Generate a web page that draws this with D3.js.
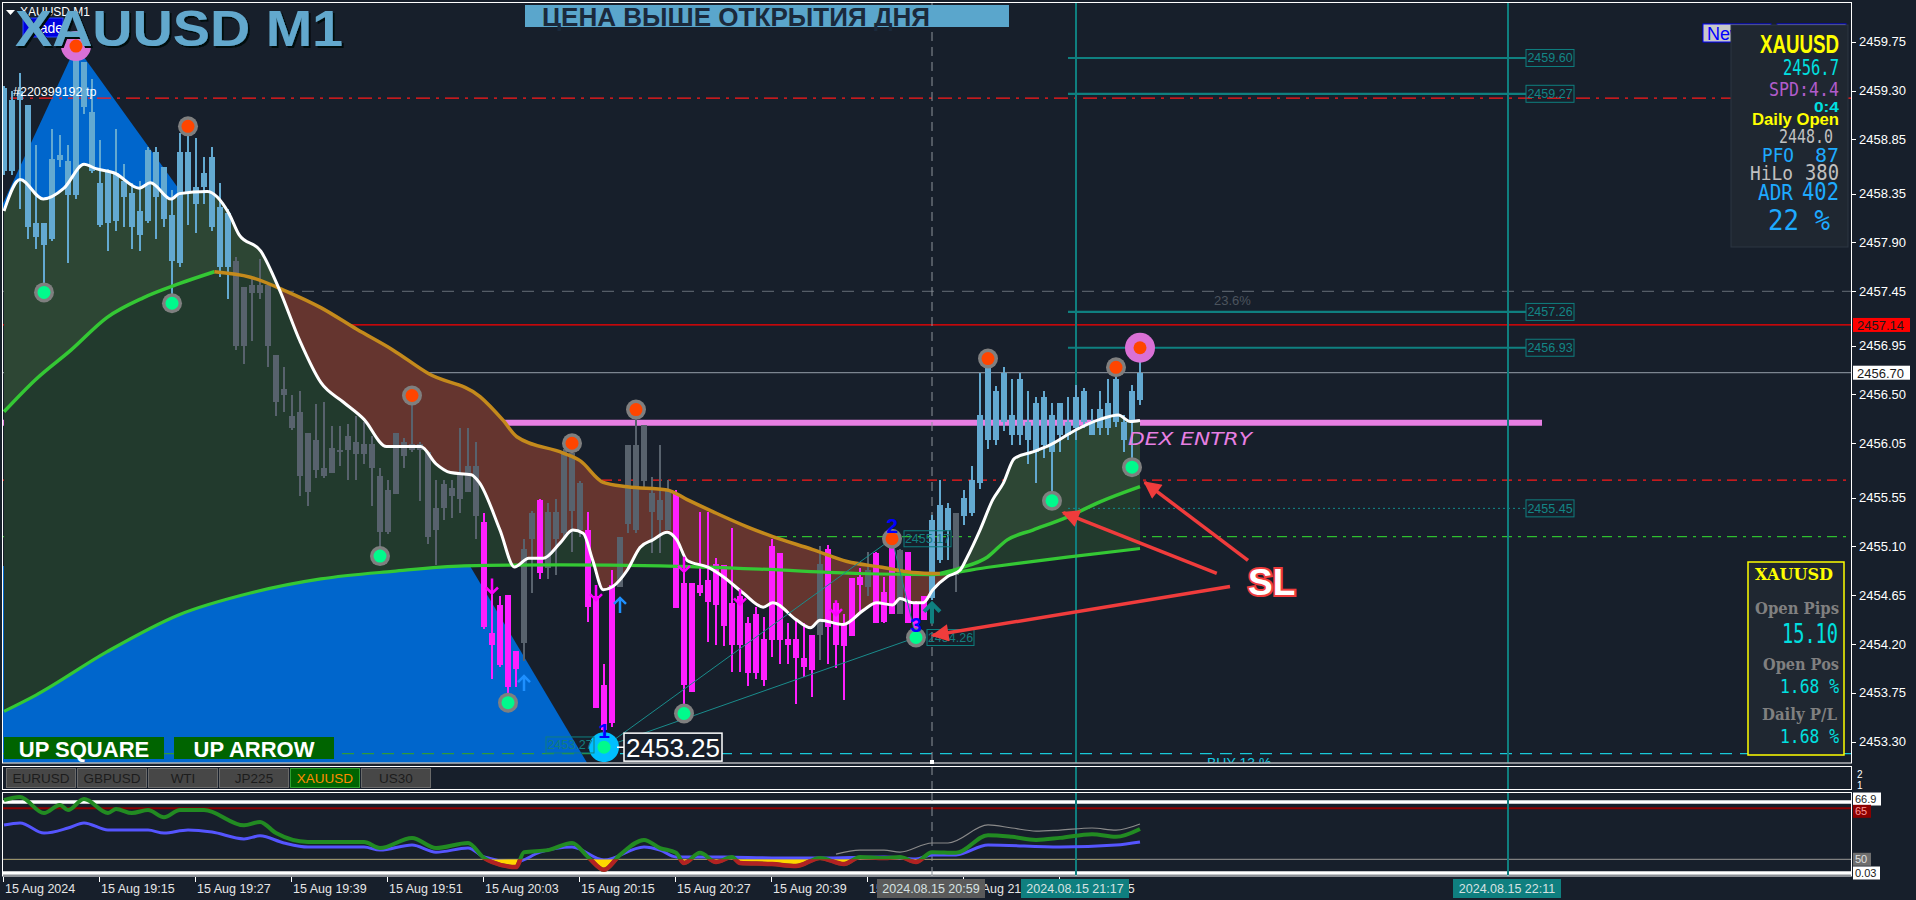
<!DOCTYPE html>
<html><head><meta charset="utf-8">
<script src="https://cdn.jsdelivr.net/npm/d3@7/dist/d3.min.js"></script>
<style>html,body{margin:0;padding:0;background:#171f2b;overflow:hidden}svg{display:block}</style>
</head><body>
<svg id="chart" width="1916" height="900"></svg>
<script>
// ================= DATA =================
const priceTicks = [2459.75,2459.30,2458.85,2458.35,2457.90,2457.45,2456.95,2456.50,2456.05,2455.55,2455.10,2454.65,2454.20,2453.75,2453.30];
const timeTickBars = [0,12,24,36,48,60,72,84,96,108,120,132];
const timeTickLabels = ["15 Aug 2024","15 Aug 19:15","15 Aug 19:27","15 Aug 19:39","15 Aug 19:51","15 Aug 20:03","15 Aug 20:15","15 Aug 20:27","15 Aug 20:39","15 Aug 20:51","15 Aug 21:03","15 Aug 21:15"];

const open = [
2458.56,2458.56,2459.21,2458.04,2457.95,2457.88,2457.93,2458.66,2458.34,2458.34,
2459.15,2458.56,2458.06,2458.08,2458.10,2458.32,2458.04,2457.97,2458.10,2458.32,
2458.12,2457.73,2457.71,2458.36,2458.25,2458.41,2458.04,2457.67,2457.67,2457.73,
2457.49,2457.51,2457.51,2457.51,2456.86,2456.55,2456.30,2456.34,2456.14,2456.08,
2455.82,2456.01,2455.99,2456.12,2456.06,2456.04,2456.04,2455.75,2455.62,2456.14,
2456.06,2456.04,2456.04,2455.97,2455.45,2455.67,2455.64,2455.78,2455.84,2455.84,
2455.32,2454.30,2454.56,2454.65,2454.14,2455.08,2455.41,2455.53,2455.42,2455.42,
2455.98,2455.96,2455.68,2455.25,2454.64,2453.82,2454.74,2455.19,2456.03,2456.03,
2456.22,2455.59,2455.53,2455.62,2455.59,2454.76,2454.76,2454.74,2454.79,2454.94,
2454.93,2454.58,2454.64,2454.39,2454.48,2454.25,2455.10,2455.04,2454.25,2454.25,
2454.07,2454.28,2454.94,2455.08,2454.58,2454.39,2454.81,2454.82,2454.88,2455.04,
2454.68,2455.13,2455.07,2455.05,2454.58,2454.64,2454.62,2454.97,2455.25,2455.41,
2455.38,2455.41,2455.68,2456.08,2456.08,2456.25,2456.13,2456.13,2456.08,2455.97,
2456.03,2455.97,2456.13,2456.13,2456.19,2456.25,2456.13,2456.19,2456.19,2456.25,
2456.08,2456.25,2456.45];
const high = [
2459.34,2459.30,2459.46,2459.17,2458.80,2458.08,2458.95,2458.89,2458.80,2459.71,
2459.56,2459.41,2458.84,2458.58,2458.95,2458.62,2458.45,2458.47,2458.78,2458.78,
2458.60,2458.38,2458.91,2458.97,2458.86,2458.69,2458.78,2458.45,2458.21,2457.77,
2457.49,2457.58,2457.75,2457.51,2456.86,2456.75,2456.49,2456.53,2456.14,2456.41,
2456.43,2456.21,2456.21,2456.23,2456.30,2456.25,2456.12,2455.82,2455.71,2456.14,
2456.10,2456.47,2456.06,2455.97,2455.71,2455.71,2455.71,2456.19,2456.19,2456.06,
2455.41,2454.74,2454.64,2454.65,2454.14,2455.17,2455.43,2455.54,2455.50,2455.54,
2456.00,2456.05,2455.70,2455.42,2454.71,2454.02,2454.88,2455.19,2456.03,2456.36,
2456.22,2455.74,2456.03,2455.71,2455.62,2454.97,2454.76,2455.42,2455.42,2454.99,
2454.93,2455.27,2454.70,2454.45,2454.54,2454.45,2455.17,2455.04,2454.39,2454.42,
2454.39,2454.28,2455.10,2455.11,2454.58,2454.48,2454.81,2454.90,2455.05,2455.05,
2454.82,2455.17,2455.08,2455.05,2454.60,2454.64,2455.39,2455.71,2455.50,2455.41,
2455.62,2455.84,2456.70,2456.83,2456.58,2456.75,2456.64,2456.70,2456.53,2456.48,
2456.53,2456.42,2456.42,2456.48,2456.59,2456.56,2456.37,2456.53,2456.64,2456.75,
2456.31,2456.59,2456.93];
const low = [
2458.52,2458.52,2458.21,2457.93,2457.84,2457.45,2457.91,2458.60,2457.71,2458.30,
2459.08,2458.54,2458.04,2457.82,2458.01,2458.04,2457.84,2457.82,2458.08,2457.93,
2458.04,2457.34,2457.67,2458.06,2457.99,2458.25,2458.01,2457.58,2457.38,2456.91,
2456.78,2456.99,2457.38,2456.75,2456.30,2456.34,2456.17,2455.56,2455.47,2455.73,
2455.73,2455.78,2455.84,2455.71,2455.71,2455.86,2455.47,2455.03,2455.21,2455.58,
2455.82,2455.97,2455.52,2455.12,2454.93,2455.34,2455.36,2455.41,2455.60,2455.17,
2454.34,2453.88,2453.99,2453.66,2453.80,2454.04,2454.67,2454.80,2454.80,2454.84,
2455.19,2455.05,2455.19,2454.40,2453.61,2453.25,2453.44,2454.73,2455.22,2455.22,
2455.65,2455.04,2455.04,2455.25,2454.53,2453.56,2453.76,2454.64,2454.22,2454.19,
2454.18,2453.94,2453.94,2453.81,2453.88,2453.81,2454.08,2454.02,2454.02,2453.65,
2453.90,2453.71,2454.05,2454.02,2453.98,2453.68,2454.27,2454.48,2454.64,2454.39,
2454.39,2454.48,2454.48,2454.39,2454.26,2454.42,2454.61,2454.95,2454.97,2454.68,
2455.30,2455.38,2455.63,2456.00,2456.03,2456.16,2456.03,2456.03,2455.86,2455.68,
2455.91,2455.55,2455.97,2456.08,2456.08,2456.19,2456.13,2456.13,2456.13,2456.20,
2455.97,2455.83,2456.40];
const close = [
2459.32,2459.21,2459.30,2459.17,2458.08,2458.08,2458.67,2458.71,2458.65,2459.58,
2459.56,2459.10,2458.45,2458.56,2458.54,2458.47,2458.36,2458.19,2458.75,2458.73,
2458.60,2458.15,2458.73,2458.73,2458.41,2458.54,2458.69,2458.23,2458.17,2456.95,
2456.95,2457.43,2457.43,2456.95,2456.43,2456.49,2456.19,2455.75,2455.60,2455.80,
2455.75,2455.78,2455.97,2455.99,2455.95,2455.95,2455.82,2455.23,2455.23,2455.58,
2455.93,2455.99,2455.99,2455.19,2455.25,2455.45,2455.56,2455.54,2455.60,2455.38,
2454.36,2454.19,2454.01,2453.80,2453.97,2454.21,2455.17,2454.85,2454.90,2455.17,
2455.22,2455.43,2455.25,2454.54,2453.61,2453.41,2453.47,2454.73,2455.31,2455.25,
2455.70,2455.42,2455.34,2455.25,2454.53,2453.82,2453.76,2454.67,2454.59,2454.56,
2454.37,2454.19,2454.19,2453.93,2453.93,2453.87,2454.24,2454.24,2454.19,2454.07,
2453.99,2453.96,2454.28,2454.36,2454.19,2454.18,2454.27,2454.74,2454.73,2454.39,
2454.40,2454.48,2454.48,2454.39,2454.33,2454.42,2455.34,2455.48,2455.45,2454.84,
2455.55,2455.71,2456.31,2456.75,2456.53,2456.70,2456.31,2456.64,2456.25,2456.42,
2456.48,2456.31,2456.42,2456.25,2456.48,2456.53,2456.25,2456.37,2456.42,2456.64,
2456.25,2456.53,2456.70];
// candle colour state: b = above, g = neutral, m = below
const barColorRuns = [["b",29],["g",31],["m",5],["g",2],["m",1],["g",5],["m",4],["g",7],["m",18],["g",1],["m",5],["g",1],["m",3],["g",1],["m",3],["b",3],["g",1],["b",23]];

// moving averages (bar index, price)
const fastT = [0,2,4.9,7.5,10,11.5,13.8,16.9,18.3,20.9,21.9,25.4,28.1,29.4,32.1,34.4,37,39.6,42.4,45,47.8,52.1,54,55.8,58.4,59.4,62,63.8,65.6,67.4,69.5,71.1,72.4,73.6,74.9,76.1,77.9,79.5,81.1,82.9,84.1,85.4,87.9,89.9,92.4,94.9,96.1,99.1,100.8,102,104.9,107.4,109.1,111.1,112,113.6,114.9,116.1,117.9,119.5,120.4,122,123.6,124.9,126.3,128.6,130.9,133.9,137,139.3,140.8,142];
const fastP = [2458.19,2458.48,2458.30,2458.40,2458.62,2458.58,2458.54,2458.40,2458.45,2458.30,2458.35,2458.37,2458.17,2457.97,2457.82,2457.47,2456.99,2456.61,2456.43,2456.27,2456.02,2456.02,2455.86,2455.78,2455.76,2455.69,2455.25,2454.91,2454.99,2454.99,2455.13,2455.25,2455.22,2454.97,2454.70,2454.73,2454.88,2455.09,2455.16,2455.23,2455.16,2454.97,2454.91,2454.82,2454.67,2454.54,2454.58,2454.42,2454.35,2454.42,2454.38,2454.51,2454.58,2454.56,2454.62,2454.58,2454.58,2454.70,2454.82,2454.88,2455.00,2455.25,2455.53,2455.68,2455.91,2455.97,2456.04,2456.17,2456.27,2456.31,2456.25,2456.26];
const midT = [0,4,8.4,12.9,17.4,21.9,26.3,30.8,35.3,39.6,44.1,48.6,53.1,59.5,62.4,64.1,69.9,72,74.9,77.9,82.9,85.4,88.6,92.9,96.1,101.1,105.4,109.5,113.6,117,119.5,122.9,125.4,128.6,132.9,137,142];
const midP = [2456.34,2456.64,2456.91,2457.21,2457.39,2457.52,2457.63,2457.58,2457.45,2457.30,2457.10,2456.91,2456.69,2456.48,2456.26,2456.11,2455.96,2455.89,2455.69,2455.65,2455.62,2455.53,2455.42,2455.28,2455.19,2455.07,2454.96,2454.91,2454.86,2454.85,2454.90,2455.00,2455.16,2455.25,2455.37,2455.51,2455.65];
const slowT = [0,4,12.9,21.9,30.8,39.6,48.6,57.5,69.5,82,94.5,107,115.8,123.3,132.9,142];
const slowP = [2453.58,2453.73,2454.13,2454.47,2454.67,2454.80,2454.87,2454.92,2454.93,2454.92,2454.89,2454.85,2454.84,2454.91,2455.00,2455.08];

// swing markers
const highMarkT = [9,23,51,71,79,111,123,139,142];
const highMarkP = [2459.71,2458.97,2456.49,2456.05,2456.36,2455.17,2456.83,2456.75,2456.93];
const lowMarkT = [5,21,47,63,75,85,114,131,141];
const lowMarkP = [2457.44,2457.34,2455.01,2453.66,2453.25,2453.56,2454.26,2455.52,2455.83];
const downArrowT = [61,74,85,92,104];
const downArrowP = [2454.73,2454.67,2454.93,2454.63,2454.53];
const upArrowT = [65,77];
const upArrowP = [2453.84,2454.56];
const bigUpArrowT = [116];
const bigUpArrowP = [2454.49];
const swingNames = ["1","2","3"];
const swingT = [75,111,114];
const swingP = [2453.25,2455.17,2454.26];
const swingBoxP = [2453.27,2455.17,2454.26];
const lowestPrice = 2453.25;

// triangles
const topTriT = [9,-0.5,25];
const topTriP = [2459.71,2458.20,2458.07];
const botTriT = [-0.5,58.25,73.25,-0.5];
const botTriP = [2454.92,2454.92,2453.06,2453.06];

// price levels
const tpPrice = 2459.23, fibPrice = 2457.45, askPrice = 2457.14, bidPrice = 2456.70;
const entryPrice = 2456.24, slPrice = 2455.71, greenLevelPrice = 2455.19, buyPrice = 2453.19;
const targetPrices = [2459.60,2459.27,2457.26,2456.93];
const stopTargetPrice = 2455.45;
const targetStartBar = 133, entryEndBar = 192.25;
const vLineBars = [116,134,188];
const vLineLabels = ["2024.08.15 20:59","2024.08.15 21:17","2024.08.15 22:11"];

// SL annotation arrows
const slFromT = [155.5,151.6,153.25], slFromP = [2454.97,2454.85,2454.73];
const slToT = [142.6,132.4,116.1], slToP = [2455.69,2455.41,2454.28];
const slTextT = 155.5, slTextP = 2454.65;

// indicator sub-window
const oscT = [0,2,5,7,8,10,13,14,16,18,20,22,25,30,32,34,38,45,47,51,54,58,60,61,64,65,68,71,73,75,77,80,82,84,85,87,89,91,92,96,99,102,105,107,110,112,114,116,119,123,126,129,132,136,139,142];
const oscV = [67.4,68.3,63.6,66.0,64.5,67.7,63.6,64.8,63.6,64.5,62.4,64.5,64.5,60.0,61.0,57.7,55.1,55.1,53.3,56.3,53.3,54.8,50.4,49.2,47.7,52.1,52.7,54.8,50.7,46.9,51.3,55.7,53.3,51.9,48.9,51.9,49.2,50.7,48.9,48.6,48.0,50.4,48.6,50.7,50.4,50.7,49.2,52.1,51.9,57.1,56.6,55.7,56.3,57.4,56.6,58.9];
const sigT = [0,2,5,8,10,13,18,20,23,26,30,32,35,38,45,47,51,54,58,60,64,67,71,75,80,82,84,90,96,102,110,114,116,119,123,132,139,142];
const sigV = [60.1,60.7,57.7,59.2,60.7,58.6,58.6,57.7,58.6,58.0,56.0,56.9,54.8,53.6,53.6,52.7,54.2,52.1,53.3,50.7,49.2,52.1,53.6,49.8,53.6,52.7,50.7,50.7,50.4,50.4,50.7,50.1,51.3,51.3,54.2,53.6,54.2,55.1];
const grayT = [104,107,110,112,116,118,123,126,129,132,136,139,142];
const grayV = [51.5,52.7,52.7,52.1,54.8,54.8,60.1,59.2,58.3,58.6,59.2,58.6,60.4];
const indLevels = [66.85,65,50,45.97];
const indLevelLabels = ["66.9","65","50","0.03"];

const tabSymbols = ["EURUSD","GBPUSD","WTI","JP225","XAUUSD","US30"];
const activeTab = "XAUUSD";

// info panel
const infoSymbol = "XAUUSD", infoPrice = "2456.7", infoSpread = "SPD:4.4", infoTimer = "0:4";
const infoDailyOpen = "2448.0", infoPFO = "87", infoHiLo = "380", infoADR = "402", infoADRpct = "22 %";
const openPips = "15.10", openPos = "1.68 %", dailyPL = "1.68 %";

// ================= DRAW =================
const FONT = "'Liberation Sans', Arial, sans-serif";
const MONO = "'DejaVu Sans Mono', monospace";
const SERIF = "'DejaVu Serif', serif";
const BG = "#171f2b";
const svg = d3.select("#chart");
const defs = svg.append("defs");
svg.append("rect").attr("width",1916).attr("height",900).attr("fill",BG);

const M = {l:2, r:1852, t:2, b:763};
defs.append("clipPath").attr("id","clipMain").append("rect")
  .attr("x",M.l+0.5).attr("y",M.t+0.5).attr("width",M.r-M.l-1).attr("height",M.b-M.t-1);
const sh = defs.append("filter").attr("id","shadow").attr("x","-5%").attr("y","-20%").attr("width","110%").attr("height","140%");
sh.append("feDropShadow").attr("dx",2).attr("dy",2).attr("stdDeviation",0.3).attr("flood-color","#05080d").attr("flood-opacity",1);
const main = svg.append("g").attr("clip-path","url(#clipMain)");

const x = d3.scaleLinear().domain([0,142]).range([4,1140]);
const y = d3.scaleLinear().domain([2453.30,2459.75]).range([741.7,41.7]);
const pts = (T,P)=>T.map((t,i)=>[t,P[i]]);
const lineGen = d3.line().x(d=>x(d[0])).y(d=>y(d[1])).curve(d3.curveMonotoneX);
const polyGen = d3.line().x(d=>x(d[0])).y(d=>y(d[1]));

// triangles
main.append("path").attr("d",polyGen(pts(topTriT,topTriP))+"Z").attr("fill","#0066cc");
main.append("path").attr("d",polyGen(pts(botTriT,botTriP))+"Z").attr("fill","#0066cc");

// horizontal lines
function hl(p,col,w,dash,x0,x1){
  return main.append("line").attr("x1",x0==null?M.l:x0).attr("x2",x1==null?M.r:x1)
    .attr("y1",y(p)).attr("y2",y(p)).attr("stroke",col).attr("stroke-width",w)
    .attr("stroke-dasharray",dash||null);
}
hl(tpPrice,"#ff1a1a",1.4,"14,6,3,6",10);
hl(fibPrice,"#555d67",1.2,"12,8");
hl(askPrice,"#ff0000",1.2);
hl(bidPrice,"#7c8590",1.2);
hl(entryPrice,"#e77fe3",6,null,M.l,x(entryEndBar));
hl(slPrice,"#ff1a1a",1.4,"10,6,3,6");
hl(greenLevelPrice,"#2fbf2f",1.4,"10,6,3,6");
hl(buyPrice,"#2e9a3a",1.4,"12,8",M.l,600);
hl(buyPrice,"#18c8d8",1.4,"12,8",600,M.r);

// fills
const BOT=900, TOP=-20;
const fastPts = pts(fastT,fastP), midPts = pts(midT,midP), slowPts = pts(slowT,slowP);
const areaBelow = d3.area().x(d=>x(d[0])).y0(BOT).y1(d=>y(d[1])).curve(d3.curveMonotoneX);
const areaAbove = d3.area().x(d=>x(d[0])).y0(TOP).y1(d=>y(d[1])).curve(d3.curveMonotoneX);
defs.append("clipPath").attr("id","aboveSlow").append("path").attr("d",areaAbove(slowPts));
defs.append("clipPath").attr("id","aboveMid").append("path").attr("d",areaAbove(midPts));
defs.append("clipPath").attr("id","belowMid").append("path").attr("d",areaBelow(midPts));
main.append("g").attr("clip-path","url(#aboveSlow)").append("path").attr("d",areaBelow(fastPts)).attr("fill","#223a2d");
main.append("g").attr("clip-path","url(#aboveMid)").append("path").attr("d",areaBelow(fastPts)).attr("fill","#2d4634");
main.append("g").attr("clip-path","url(#belowMid)").append("path").attr("d",areaAbove(fastPts)).attr("fill","#65352f");

// target levels (teal) with labels
const fmt2 = d3.format(".2f");
function levelBox(g,xl,p,w){
  g.append("rect").attr("x",xl).attr("y",y(p)-8.5).attr("width",w).attr("height",17)
    .attr("fill","none").attr("stroke","#0f7f7f").attr("stroke-width",1);
  g.append("text").attr("x",xl+w/2).attr("y",y(p)+4.5).attr("text-anchor","middle")
    .attr("font-family",FONT).attr("font-size",12.5).attr("fill","#138585").text(fmt2(p));
}
targetPrices.forEach(p=>{ hl(p,"#0f8080",2.2,null,x(targetStartBar),1526); levelBox(main,1526,p,48); });
hl(stopTargetPrice,"#138a8a",1,"2,3",x(targetStartBar),1526); levelBox(main,1526,stopTargetPrice,48);
main.append("text").attr("x",1214).attr("y",y(fibPrice)+14).attr("font-family",FONT).attr("font-size",13)
  .attr("fill","#4c545e").text("23.6%");

// vertical lines
main.append("line").attr("x1",x(vLineBars[0])).attr("x2",x(vLineBars[0])).attr("y1",M.t).attr("y2",M.b)
  .attr("stroke","#8d939a").attr("stroke-width",1).attr("stroke-dasharray","9,6");
[1,2].forEach(k=>main.append("line").attr("x1",x(vLineBars[k])).attr("x2",x(vLineBars[k])).attr("y1",M.t).attr("y2",M.b)
  .attr("stroke","#0f7f7f").attr("stroke-width",2));

// candles
const barColor = barColorRuns.flatMap(([c,n])=>Array(n).fill(c));
const nBars = Math.min(open.length,high.length,low.length,close.length);
const bars = d3.range(nBars).map(i=>({i,o:open[i],h:high[i],l:low[i],c:close[i],k:barColor[i]||"b"}));
const candleCol = {b:"#63a9d1", g:"#58626d", m:"#ff1fff"};
const cg = main.append("g").attr("shape-rendering","crispEdges");
cg.selectAll("line").data(bars).join("line")
  .attr("x1",d=>x(d.i)).attr("x2",d=>x(d.i)).attr("y1",d=>y(d.h)).attr("y2",d=>y(d.l))
  .attr("stroke",d=>candleCol[d.k]).attr("stroke-width",2);
cg.selectAll("rect").data(bars).join("rect")
  .attr("x",d=>x(d.i)-3).attr("y",d=>y(Math.max(d.o,d.c))).attr("width",6)
  .attr("height",d=>Math.max(1.5,Math.abs(y(d.o)-y(d.c)))).attr("fill",d=>candleCol[d.k]);

// moving averages
main.append("path").attr("d",lineGen(slowPts)).attr("fill","none").attr("stroke","#34c834").attr("stroke-width",3.2);
let runs=[], cur=[midPts[0]], curUp = midPts[1][1]>=midPts[0][1];
for(let i=1;i<midPts.length;i++){
  const up = midPts[i][1]>=midPts[i-1][1];
  if(up!==curUp){ runs.push({up:curUp,pts:cur}); cur=[midPts[i-1]]; curUp=up; }
  cur.push(midPts[i]);
}
runs.push({up:curUp,pts:cur});
runs.forEach(r=>main.append("path").attr("d",lineGen(r.pts)).attr("fill","none")
  .attr("stroke",r.up?"#34c834":"#c48a1c").attr("stroke-width",3.5));
main.append("path").attr("d",lineGen(fastPts)).attr("fill","none").attr("stroke","#ffffff").attr("stroke-width",3);

// pattern lines 1-2-3
const pl = main.append("g").attr("stroke","#1a8c8c").attr("stroke-width",1);
[[0,1],[0,2],[1,2]].forEach(([a,b])=>pl.append("line")
  .attr("x1",x(swingT[a])).attr("y1",y(swingP[a])).attr("x2",x(swingT[b])).attr("y2",y(swingP[b])));

// markers
const mk = main.append("g");
highMarkT.forEach((t,i)=>{
  const big = (i===0||i===highMarkT.length-1);
  mk.append("circle").attr("cx",x(t)).attr("cy",y(highMarkP[i])).attr("r",big?15:10).attr("fill",big?"#da70d6":"#7f7f7f");
  mk.append("circle").attr("cx",x(t)).attr("cy",y(highMarkP[i])).attr("r",6.5).attr("fill","#ff4500");
});
lowMarkT.forEach((t,i)=>{
  const big = (lowMarkP[i]===lowestPrice);
  mk.append("circle").attr("cx",x(t)).attr("cy",y(lowMarkP[i])).attr("r",big?15:10).attr("fill",big?"#00bfff":"#7f7f7f");
  mk.append("circle").attr("cx",x(t)).attr("cy",y(lowMarkP[i])).attr("r",6.5).attr("fill","#00fa8c");
});
// arrows
downArrowT.forEach((t,i)=>{ const cx=x(t), cy=y(downArrowP[i]);
  mk.append("path").attr("d",`M${cx},${cy-8}V${cy+7}M${cx-6},${cy+1}L${cx},${cy+7}L${cx+6},${cy+1}`)
    .attr("fill","none").attr("stroke","#ff00ff").attr("stroke-width",2.5); });
upArrowT.forEach((t,i)=>{ const cx=x(t), cy=y(upArrowP[i]);
  mk.append("path").attr("d",`M${cx},${cy+8}V${cy-7}M${cx-6},${cy-1}L${cx},${cy-7}L${cx+6},${cy-1}`)
    .attr("fill","none").attr("stroke","#1e90ff").attr("stroke-width",2.5); });
bigUpArrowT.forEach((t,i)=>{ const cx=x(t), cy=y(bigUpArrowP[i]);
  mk.append("path").attr("d",`M${cx},${cy+11}V${cy-9}M${cx-8},${cy-1}L${cx},${cy-9}L${cx+8},${cy-1}`)
    .attr("fill","none").attr("stroke","#0f8080").attr("stroke-width",4); });

// pattern labels
swingNames.forEach((s,i)=>mk.append("text").attr("x",x(swingT[i])).attr("y",y(swingP[i])-(i===0?9:6))
  .attr("text-anchor","middle").attr("font-family",FONT).attr("font-weight","bold").attr("font-size",21)
  .attr("fill","#0000ff").text(s));
function smallBox(xl,p,w){
  mk.append("rect").attr("x",xl).attr("y",y(p)-8).attr("width",w).attr("height",16).attr("fill","none").attr("stroke","#0f7f7f");
  mk.append("text").attr("x",xl+w/2).attr("y",y(p)+4.5).attr("text-anchor","middle").attr("font-family",FONT)
    .attr("font-size",12.5).attr("fill","#137d7d").text(fmt2(p));
}
smallBox(x(swingT[0])-58,swingBoxP[0],48);
smallBox(x(swingT[1])+12,swingBoxP[1],47);
smallBox(x(swingT[2])+11,swingBoxP[2],47);
mk.append("line").attr("x1",x(swingT[0])+13).attr("x2",x(swingT[0])+20).attr("y1",y(lowestPrice)).attr("y2",y(lowestPrice)).attr("stroke","#fff").attr("stroke-width",1.5);
mk.append("rect").attr("x",x(swingT[0])+20).attr("y",y(lowestPrice)-14).attr("width",98).attr("height",28)
  .attr("fill",BG).attr("stroke","#ffffff").attr("stroke-width",1.5);
mk.append("text").attr("x",x(swingT[0])+69).attr("y",y(lowestPrice)+10).attr("text-anchor","middle")
  .attr("font-family",FONT).attr("font-size",26).attr("fill","#ffffff").text(fmt2(lowestPrice));

// DEX ENTRY text
main.append("text").attr("x",1128).attr("y",445).attr("font-family","'DejaVu Sans', sans-serif").attr("font-style","italic")
  .attr("font-size",17).attr("fill","#e77fe3").attr("textLength",124).attr("lengthAdjust","spacingAndGlyphs").text("DEX ENTRY");
// BUY text
main.append("text").attr("x",1207).attr("y",768).attr("font-family",FONT).attr("font-size",14).attr("fill","#18c8e0").text("BUY 13 %");
// tp label
main.append("text").attr("x",13).attr("y",y(tpPrice)-2).attr("font-family",FONT).attr("font-size",12.5).attr("fill","#ffffff").text("#220399192 tp");

// SL annotation
defs.append("marker").attr("id","redHead").attr("viewBox","0 0 10 10").attr("refX",9).attr("refY",5)
  .attr("markerWidth",6).attr("markerHeight",5).attr("orient","auto")
  .append("path").attr("d","M0,0 L10,5 L0,10 z").attr("fill","#f03c3c");
slFromT.forEach((t,i)=>main.append("line").attr("x1",x(t)).attr("y1",y(slFromP[i])).attr("x2",x(slToT[i])).attr("y2",y(slToP[i]))
  .attr("stroke","#f03c3c").attr("stroke-width",3.5).attr("marker-end","url(#redHead)"));
main.append("text").attr("x",x(slTextT)).attr("y",y(slTextP)).attr("font-family",FONT).attr("font-weight","bold")
  .attr("font-size",37).attr("fill","#ffffff").attr("stroke","#f03c3c").attr("stroke-width",4)
  .attr("paint-order","stroke").text("SL");

// UP SQUARE / UP ARROW
[["UP SQUARE",4],["UP ARROW",174]].forEach(([t,xl])=>{
  main.append("rect").attr("x",xl).attr("y",737).attr("width",160).attr("height",22).attr("fill","#006400");
  main.append("text").attr("x",xl+80).attr("y",757).attr("text-anchor","middle").attr("font-family",FONT)
    .attr("font-weight","bold").attr("font-size",22).attr("fill","#ffffff").text(t);
});

// top-left header (small labels partly hidden by the big title, as in the terminal)
main.append("path").attr("d","M6,10 L15,10 L10.5,15 Z").attr("fill","#ffffff");
main.append("text").attr("x",20).attr("y",16).attr("font-family",FONT).attr("font-size",12).attr("fill","#ffffff").text("XAUUSD,M1");
main.append("rect").attr("x",23).attr("y",18).attr("width",40).attr("height",19).attr("fill","#0000e0").attr("stroke","#2a4cff");
main.append("text").attr("x",27).attr("y",33).attr("font-family",FONT).attr("font-size",14).attr("fill","#ffffff").text("Trade");

// top-right buttons + info panel
main.append("rect").attr("x",1703).attr("y",24).attr("width",68).attr("height",18).attr("fill","#c8c8c8").attr("stroke","#0000ff");
main.append("text").attr("x",1707).attr("y",40).attr("font-family",FONT).attr("font-size",18).attr("fill","#0000ff").text("New");
main.append("rect").attr("x",1777).attr("y",24).attr("width",69).attr("height",18).attr("fill","#c8c8c8").attr("stroke","#0000ff");
const ip = main.append("g");
ip.append("rect").attr("x",1731).attr("y",25).attr("width",117).attr("height",222).attr("fill","#1f2731").attr("stroke","#2d3743");
function pt(g,txt,xe,yb,size,col,opt){
  opt=opt||{};
  const t=g.append("text").attr("x",xe).attr("y",yb).attr("text-anchor",opt.anchor||"end")
    .attr("font-family",opt.family||MONO).attr("font-size",size).attr("fill",col).text(txt);
  if(opt.bold) t.attr("font-weight","bold");
  if(opt.len) t.attr("textLength",opt.len).attr("lengthAdjust","spacingAndGlyphs");
  return t;
}
pt(ip,infoSymbol,1839,53,25,"#ffff00",{family:FONT,bold:true,len:79});
pt(ip,infoPrice,1839,75,21,"#00e0e0",{len:56});
pt(ip,infoSpread,1839,96,19,"#b25ccc",{len:70});
pt(ip,infoTimer,1839,112,15,"#00e0e0",{family:FONT,bold:true,len:25});
pt(ip,"Daily Open",1839,125,16,"#ffff00",{family:FONT,bold:true,len:87});
pt(ip,infoDailyOpen,1833,143,19,"#c0c0c0",{len:54});
pt(ip,"PFO",1762,162,20,"#1eaaff",{anchor:"start",len:32});
pt(ip,infoPFO,1839,162,20,"#1eaaff",{len:24});
pt(ip,"HiLo",1750,180,20,"#c0c0c0",{anchor:"start",len:43});
pt(ip,infoHiLo,1839,180,21,"#c0c0c0",{len:34});
pt(ip,"ADR",1758,200,21,"#1eaaff",{anchor:"start",len:35});
pt(ip,infoADR,1839,200,24,"#1eaaff",{len:37});
pt(ip,infoADRpct,1830,230,28,"#1eaaff",{len:62});

// bottom-right panel
const bp = main.append("g");
bp.append("rect").attr("x",1748).attr("y",562).attr("width",96).attr("height",193).attr("fill","#1f2731").attr("stroke","#ffff00").attr("stroke-width",1.5);
pt(bp,infoSymbol,1794,580,17,"#ffff00",{family:SERIF,bold:true,anchor:"middle",len:78});
pt(bp,"Open Pips",1839,614,16,"#808080",{family:SERIF,bold:true,len:84});
pt(bp,openPips,1838,643,26,"#00e0e0",{len:56});
pt(bp,"Open Pos",1839,670,16,"#808080",{family:SERIF,bold:true,len:76});
pt(bp,openPos,1839,693,19,"#00e0e0",{len:59});
pt(bp,"Daily P/L",1837,720,16,"#808080",{family:SERIF,bold:true,len:75});
pt(bp,dailyPL,1839,743,19,"#00e0e0",{len:59});

// main frame
svg.append("rect").attr("x",M.l+0.5).attr("y",M.t+0.5).attr("width",M.r-M.l-1).attr("height",M.b-M.t-0.5)
  .attr("fill","none").attr("stroke","#ffffff").attr("stroke-width",1);
svg.append("rect").attr("x",x(vLineBars[0])-2).attr("y",M.b-3).attr("width",4).attr("height",4).attr("fill","#ffffff");

// big title and banner (unclipped)
svg.append("text").attr("x",15).attr("y",46).attr("font-family",FONT).attr("font-weight","bold").attr("font-size",50)
  .attr("fill","#62a8cd").attr("filter","url(#shadow)").attr("textLength",328).attr("lengthAdjust","spacingAndGlyphs").text("XAUUSD M1");
svg.append("rect").attr("x",525).attr("y",5).attr("width",484).attr("height",22).attr("fill","#5aa6cc");
svg.append("text").attr("x",542).attr("y",26).attr("font-family",FONT).attr("font-weight","bold").attr("font-size",26)
  .attr("fill","#1b2a3c").attr("textLength",388).attr("lengthAdjust","spacingAndGlyphs").text("ЦЕНА ВЫШЕ ОТКРЫТИЯ ДНЯ");

// right price axis
const ax = svg.append("g").attr("font-family",FONT).attr("font-size",13);
priceTicks.forEach(p=>{
  ax.append("line").attr("x1",1852).attr("x2",1856).attr("y1",Math.round(y(p))+0.5).attr("y2",Math.round(y(p))+0.5).attr("stroke","#ffffff");
  ax.append("text").attr("x",1859).attr("y",y(p)+4.5).attr("fill","#ffffff").text(fmt2(p));
});
[[askPrice,"#ff0000","#1a1a1a"],[bidPrice,"#ffffff","#1a1a1a"]].forEach(([p,bg,fg])=>{
  ax.append("rect").attr("x",1853).attr("y",y(p)-7).attr("width",57).attr("height",14).attr("fill",bg);
  ax.append("text").attr("x",1857).attr("y",y(p)+5).attr("fill",fg).text(fmt2(p));
});

// ---------- tab window ----------
defs.append("clipPath").attr("id","clipTab").append("rect").attr("x",M.l+1).attr("y",767).attr("width",M.r-M.l-2).attr("height",22);
const tabG = svg.append("g").attr("clip-path","url(#clipTab)");
vLineBars.forEach((b,k)=>tabG.append("line").attr("x1",x(b)).attr("x2",x(b)).attr("y1",766).attr("y2",790)
  .attr("stroke",k===0?"#8d939a":"#0f7f7f").attr("stroke-width",k===0?1:2).attr("stroke-dasharray",k===0?"9,6":null));
svg.append("rect").attr("x",M.l+0.5).attr("y",766.5).attr("width",M.r-M.l-1).attr("height",23)
  .attr("fill","none").attr("stroke","#ffffff");
tabSymbols.forEach((s,i)=>{
  const xl = 6+i*71, act = s===activeTab;
  svg.append("rect").attr("x",xl+0.5).attr("y",768.5).attr("width",69).attr("height",19)
    .attr("fill",act?"#006400":"#474747").attr("stroke",act?"#2fa02f":"#6a6a6a");
  svg.append("text").attr("x",xl+35).attr("y",783).attr("text-anchor","middle").attr("font-family",FONT)
    .attr("font-size",13.5).attr("fill",act?"#ff8c00":"#1c1c1c").text(s);
});
svg.append("text").attr("x",1857).attr("y",778).attr("font-family",FONT).attr("font-size",10).attr("fill","#ffffff").text("2");
svg.append("text").attr("x",1857).attr("y",789).attr("font-family",FONT).attr("font-size",10).attr("fill","#ffffff").text("1");

// ---------- indicator window ----------
const yi = d3.scaleLinear().domain([50,65]).range([859.3,808.3]);
defs.append("clipPath").attr("id","clipInd").append("rect").attr("x",M.l+1).attr("y",793).attr("width",M.r-M.l-2).attr("height",83);
defs.append("clipPath").attr("id","below50").append("rect").attr("x",M.l+1).attr("y",yi(50)).attr("width",M.r-M.l-2).attr("height",876-yi(50));
const ind = svg.append("g").attr("clip-path","url(#clipInd)");
const il = d3.line().x(d=>x(d[0])).y(d=>yi(d[1])).curve(d3.curveMonotoneX);
const levelStyle = [["#ffffff",3.5],["#8b0000",2],["#808080",1.2],["#ffffff",3.5]];
indLevels.forEach((v,i)=>ind.append("line").attr("x1",M.l).attr("x2",M.r).attr("y1",yi(v)).attr("y2",yi(v))
  .attr("stroke",levelStyle[i][0]).attr("stroke-width",levelStyle[i][1]));
vLineBars.forEach((b,k)=>ind.append("line").attr("x1",x(b)).attr("x2",x(b)).attr("y1",792).attr("y2",877)
  .attr("stroke",k===0?"#8d939a":"#0f7f7f").attr("stroke-width",k===0?1:2).attr("stroke-dasharray",k===0?"9,6":null));
const oscPts = pts(oscT,oscV);
ind.append("path").attr("d",il(pts(sigT,sigV))).attr("fill","none").attr("stroke","#5555ff").attr("stroke-width",3);
ind.append("g").attr("clip-path","url(#below50)").append("path")
  .attr("d",d3.area().x(d=>x(d[0])).y0(yi(50)).y1(d=>yi(d[1])).curve(d3.curveMonotoneX)(oscPts)).attr("fill","#ffd700");
ind.append("path").attr("d",il(pts(grayT,grayV))).attr("fill","none").attr("stroke","#8a8a8a").attr("stroke-width",1.2);
ind.append("path").attr("d",il(oscPts)).attr("fill","none").attr("stroke","#228b22").attr("stroke-width",4);
ind.append("g").attr("clip-path","url(#below50)").append("path").attr("d",il(oscPts)).attr("fill","none").attr("stroke","#b22222").attr("stroke-width",4.5);
svg.append("rect").attr("x",M.l+0.5).attr("y",792.5).attr("width",M.r-M.l-1).attr("height",83.5)
  .attr("fill","none").attr("stroke","#ffffff");
// indicator axis labels
const indLab = [[0,"#ffffff","#1a1a1a",28,-3],[1,"#8b0000","#ff9a9a",18,3],[2,"#6e6e6e","#e0e0e0",18,0],[3,"#ffffff","#1a1a1a",27,0]];
indLab.forEach(([i,bg,fg,w,dy])=>{
  svg.append("rect").attr("x",1853).attr("y",yi(indLevels[i])-6.5+dy).attr("width",w).attr("height",13).attr("fill",bg);
  svg.append("text").attr("x",1855).attr("y",yi(indLevels[i])+4+dy).attr("font-family",FONT).attr("font-size",11).attr("fill",fg).text(indLevelLabels[i]);
});

// ---------- time axis ----------
const tx = svg.append("g").attr("font-family",FONT).attr("font-size",12.5);
timeTickBars.forEach((b,i)=>{
  tx.append("line").attr("x1",x(b)-0.5).attr("x2",x(b)-0.5).attr("y1",877).attr("y2",882).attr("stroke","#ffffff");
  tx.append("text").attr("x",x(b)+1).attr("y",893).attr("fill","#e6e6e6").text(timeTickLabels[i]);
});
vLineBars.forEach((b,k)=>{
  const xl = x(b)-55;
  tx.append("rect").attr("x",xl).attr("y",879).attr("width",108).attr("height",19).attr("fill",k===0?"#5a5a5a":"#0f7f7f");
  tx.append("text").attr("x",xl+54).attr("y",893).attr("text-anchor","middle").attr("fill","#d6e2e2").text(vLineLabels[k]);
});
</script>
</body></html>
